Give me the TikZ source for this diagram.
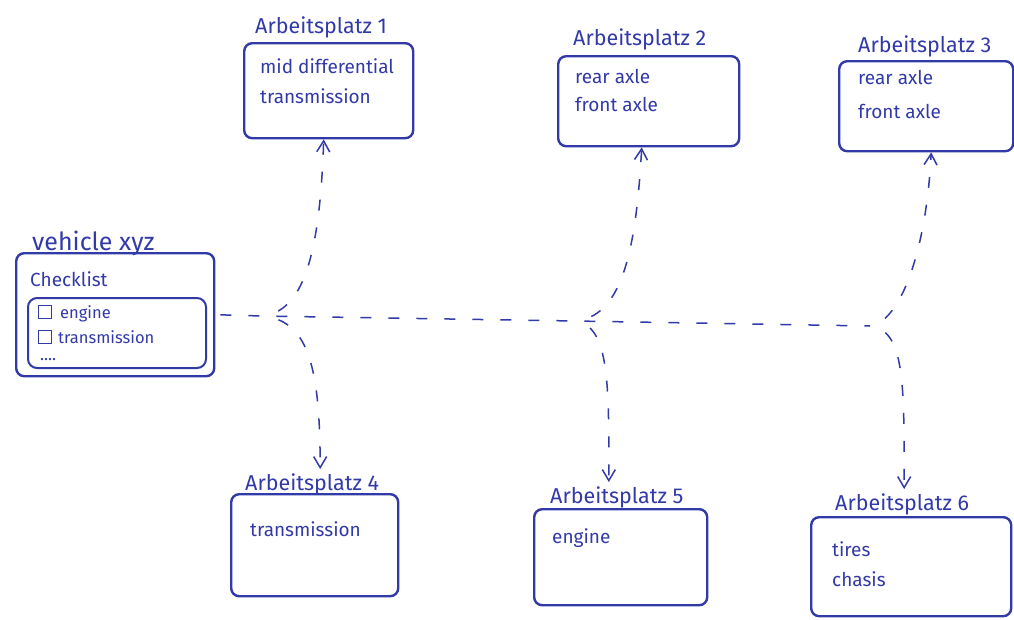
\documentclass[tikz,border=0pt]{standalone}
\usepackage{fontspec}
\setmainfont{Fira Sans}
\usetikzlibrary{arrows.meta}
\definecolor{ink}{RGB}{50,58,168}
\begin{document}
\begin{tikzpicture}[x=1pt,y=-1pt,
  every node/.style={text=ink, inner sep=0pt},
  box/.style={draw=ink, line width=2.4pt, rounded corners=8pt, anchor=north west},
  title/.style={anchor=base west, font=\fontsize{21.5}{25}\selectfont},
  bigtitle/.style={anchor=base west, font=\fontsize{25}{29}\selectfont},
  entry/.style={anchor=base west, font=\fontsize{19}{23}\selectfont},
  small/.style={anchor=base west, font=\fontsize{16.5}{19}\selectfont},
  checkbox/.style={draw=ink, line width=1.4pt, minimum size=13pt, anchor=north west},
  flow/.style={draw=ink, line width=1.5pt, dash pattern=on 11pt off 17pt},
  branch/.style={flow, dash phase=11pt},
  tip/.style={-{Straight Barb[length=11pt,width=13pt]}},
]
\fill[white] (0,0) rectangle (1014,619);
\useasboundingbox (0,0) rectangle (1014,619);

% vehicle with its checklist
\node[box, minimum width=198pt, minimum height=123pt] (veh) at (15,252) {};
\node[bigtitle] (vehtitle) at (32,250) {vehicle xyz};
\node[entry] (check) at (30,286) {Checklist};
\node[box, line width=2pt, rounded corners=9pt, minimum width=178pt, minimum height=70pt] (list) at (27,297) {};
\node[checkbox] (cb1) at (38,305) {};
\node[small] (eng) at (60,318) {engine};
\node[checkbox] (cb2) at (38,330) {};
\node[small] (trans) at (58,343) {transmission};
\node[small] (more) at (40,360) {....};

% work stations
\node[box, minimum width=169pt, minimum height=95pt] (b1) at (243,42) {};
\node[title] (t1) at (255,33) {Arbeitsplatz 1};
\node[entry] (b1a) at (260,73) {mid differential};
\node[entry] (b1b) at (260,103) {transmission};

\node[box, minimum width=181pt, minimum height=90pt] (b2) at (557,55) {};
\node[title] (t2) at (573,45) {Arbeitsplatz 2};
\node[entry] (b2a) at (575,83) {rear axle};
\node[entry] (b2b) at (575,111) {front axle};

\node[box, minimum width=174pt, minimum height=90pt] (b3) at (838,60) {};
\node[title] (t3) at (858,52) {Arbeitsplatz 3};
\node[entry] (b3a) at (858,84) {rear axle};
\node[entry] (b3b) at (858,118) {front axle};

\node[box, minimum width=167pt, minimum height=102pt] (b4) at (230,493) {};
\node[title] (t4) at (245,490) {Arbeitsplatz 4};
\node[entry] (b4a) at (250,536) {transmission};

\node[box, minimum width=173pt, minimum height=96pt] (b5) at (533,508) {};
\node[title] (t5) at (550,503) {Arbeitsplatz 5};
\node[entry] (b5a) at (552,543) {engine};

\node[box, minimum width=200pt, minimum height=99pt] (b6) at (810,516) {};
\node[title] (t6) at (835,510) {Arbeitsplatz 6};
\node[entry] (b6a) at (832,556) {tires};
\node[entry] (b6b) at (832,586) {chasis};

% distribution line and branches
\coordinate (j1) at (262,316);
\coordinate (j2) at (575,321);
\coordinate (j3) at (870,326);
\draw[flow, shorten <=5pt] (veh.east) -- (j1) -- (j2) -- (j3);

\draw[branch, tip] (j1) .. controls +(40,-4) and +(-4,120) .. ([xshift=-5pt]b1.south);
\draw[branch, tip, shorten >=4pt] (j1) .. controls +(45,4) and +(0,-110) .. ([xshift=8pt]t4.north);

\draw[branch, tip] (j2) .. controls +(45,-4) and +(-6,110) .. ([xshift=-7pt]b2.south);
\draw[branch, tip, shorten >=4pt] (j2) .. controls +(35,4) and +(0,-100) .. ([xshift=-8pt]t5.north);

\draw[branch, tip] (j3) .. controls +(30,-4) and +(-5,100) .. ([xshift=5pt]b3.south);
\draw[branch, tip, shorten >=4pt] (j3) .. controls +(35,4) and +(0,-110) .. ([xshift=2pt]t6.north);
\end{tikzpicture}
\end{document}
